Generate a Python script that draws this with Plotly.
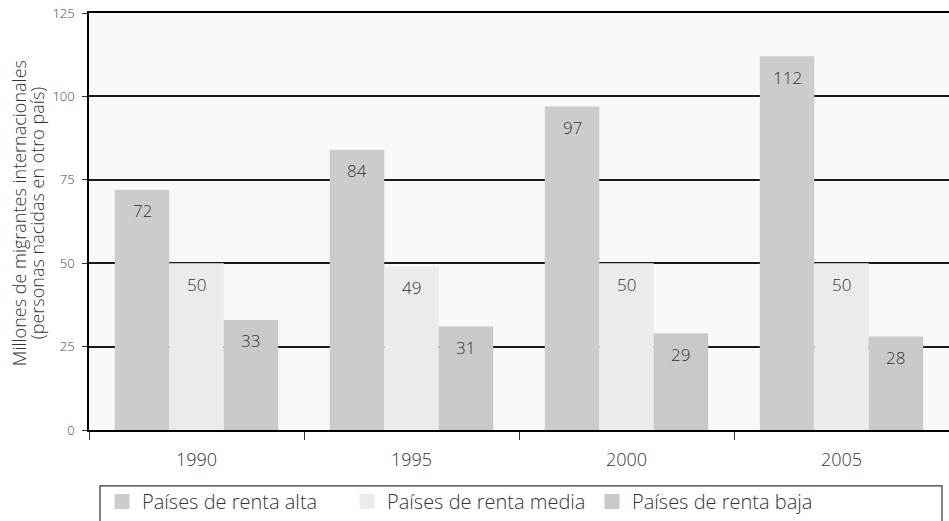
import plotly.graph_objects as go

years = ["1990", "1995", "2000", "2005"]
renta_alta = [72, 84, 97, 112]
renta_media = [50, 49, 50, 50]
renta_baja = [33, 31, 29, 28]

series = [
    ("Países de renta alta", renta_alta, "#cccccc"),
    ("Países de renta media", renta_media, "#ebebeb"),
    ("Países de renta baja", renta_baja, "#c9c9c9"),
]
y_title = ["Millones de migrantes internacionales", "(personas nacidas en otro país)"]

FONT = "Open Sans"
W, H = 949, 521
M_L, M_R, M_T, M_B = 89, 0, 13, 90
BARGAP = 0.24

fig = go.Figure()
for name, vals, color in series:
    fig.add_trace(go.Bar(
        x=years, y=vals, name=name,
        marker=dict(color=color, line=dict(width=0)),
        showlegend=False,
    ))
    # legend entry with a larger square swatch
    fig.add_trace(go.Scatter(
        x=[None], y=[None], name=name, mode="markers",
        marker=dict(symbol="square", size=15, color=color),
    ))

# value labels just under each bar top (x given as category index)
plot_w = W - M_L - M_R
plot_h = H - M_T - M_B
bar_px = plot_w / len(years) * (1 - BARGAP) / len(series)
for i, (name, vals, color) in enumerate(series):
    for j, v in enumerate(vals):
        fig.add_annotation(
            x=j, y=v, xref="x", yref="y",
            text=str(v), showarrow=False,
            xshift=(i - 1) * bar_px, yshift=-21,
            yanchor="middle",
            font=dict(family=FONT, size=17, color="#333333", weight=300),
        )

# two-line y title, tighter leading than the axis title allows
for k, line in enumerate(y_title):
    fig.add_annotation(
        x=(19 + 18 * k - M_L) / plot_w, y=0.52, xref="paper", yref="paper",
        text=line, textangle=-90, showarrow=False,
        xanchor="center", yanchor="middle",
        font=dict(family=FONT, size=18, color="#333333", weight=300),
    )

fig.update_layout(
    width=W, height=H,
    margin=dict(l=M_L, r=M_R, t=M_T, b=M_B),
    barmode="group",
    bargap=BARGAP,
    bargroupgap=0,
    paper_bgcolor="white",
    plot_bgcolor="#f9f9f9",
    font=dict(family=FONT, color="#333333"),
    showlegend=True,
    legend=dict(
        orientation="h",
        x=13 / plot_w, xanchor="left",
        y=-0.125, yanchor="top",
        font=dict(family=FONT, size=20, color="#333333", weight=300),
        entrywidth=200,
        bgcolor="rgba(0,0,0,0)",
        traceorder="normal",
    ),
)

fig.update_xaxes(
    type="category",
    automargin=False,
    showgrid=False,
    showline=True, linecolor="black", linewidth=1.5, mirror=True,
    ticks="outside", tickson="boundaries", ticklen=8, tickcolor="#333333",
    tickfont=dict(family=FONT, size=18, color="#333333", weight=300),
    ticklabelstandoff=13,
)
fig.update_yaxes(
    automargin=False,
    range=[0, 125], tickvals=[0, 25, 50, 75, 100, 125],
    showgrid=True, gridcolor="#1a1a1a", gridwidth=1.5,
    zeroline=False,
    showline=True, linecolor="black", linewidth=1.5,
    ticks="outside", ticklen=5, tickcolor="#333333",
    tickfont=dict(family=FONT, size=13, color="#444444", weight=300),
    ticklabelstandoff=5,
)

# legend frame
fig.add_shape(
    type="rect", xref="paper", yref="paper",
    x0=11 / plot_w, x1=853 / plot_w, y0=-0.3, y1=-56 / plot_h,
    line=dict(color="#333333", width=1.2), fillcolor="rgba(0,0,0,0)",
    layer="below",
)

# drop the default 8px page margin so the figure sits at the window origin
fig.write_html(
    "out.html",
    config={"displayModeBar": False},
    post_script="document.body.style.margin = '0';",
)
